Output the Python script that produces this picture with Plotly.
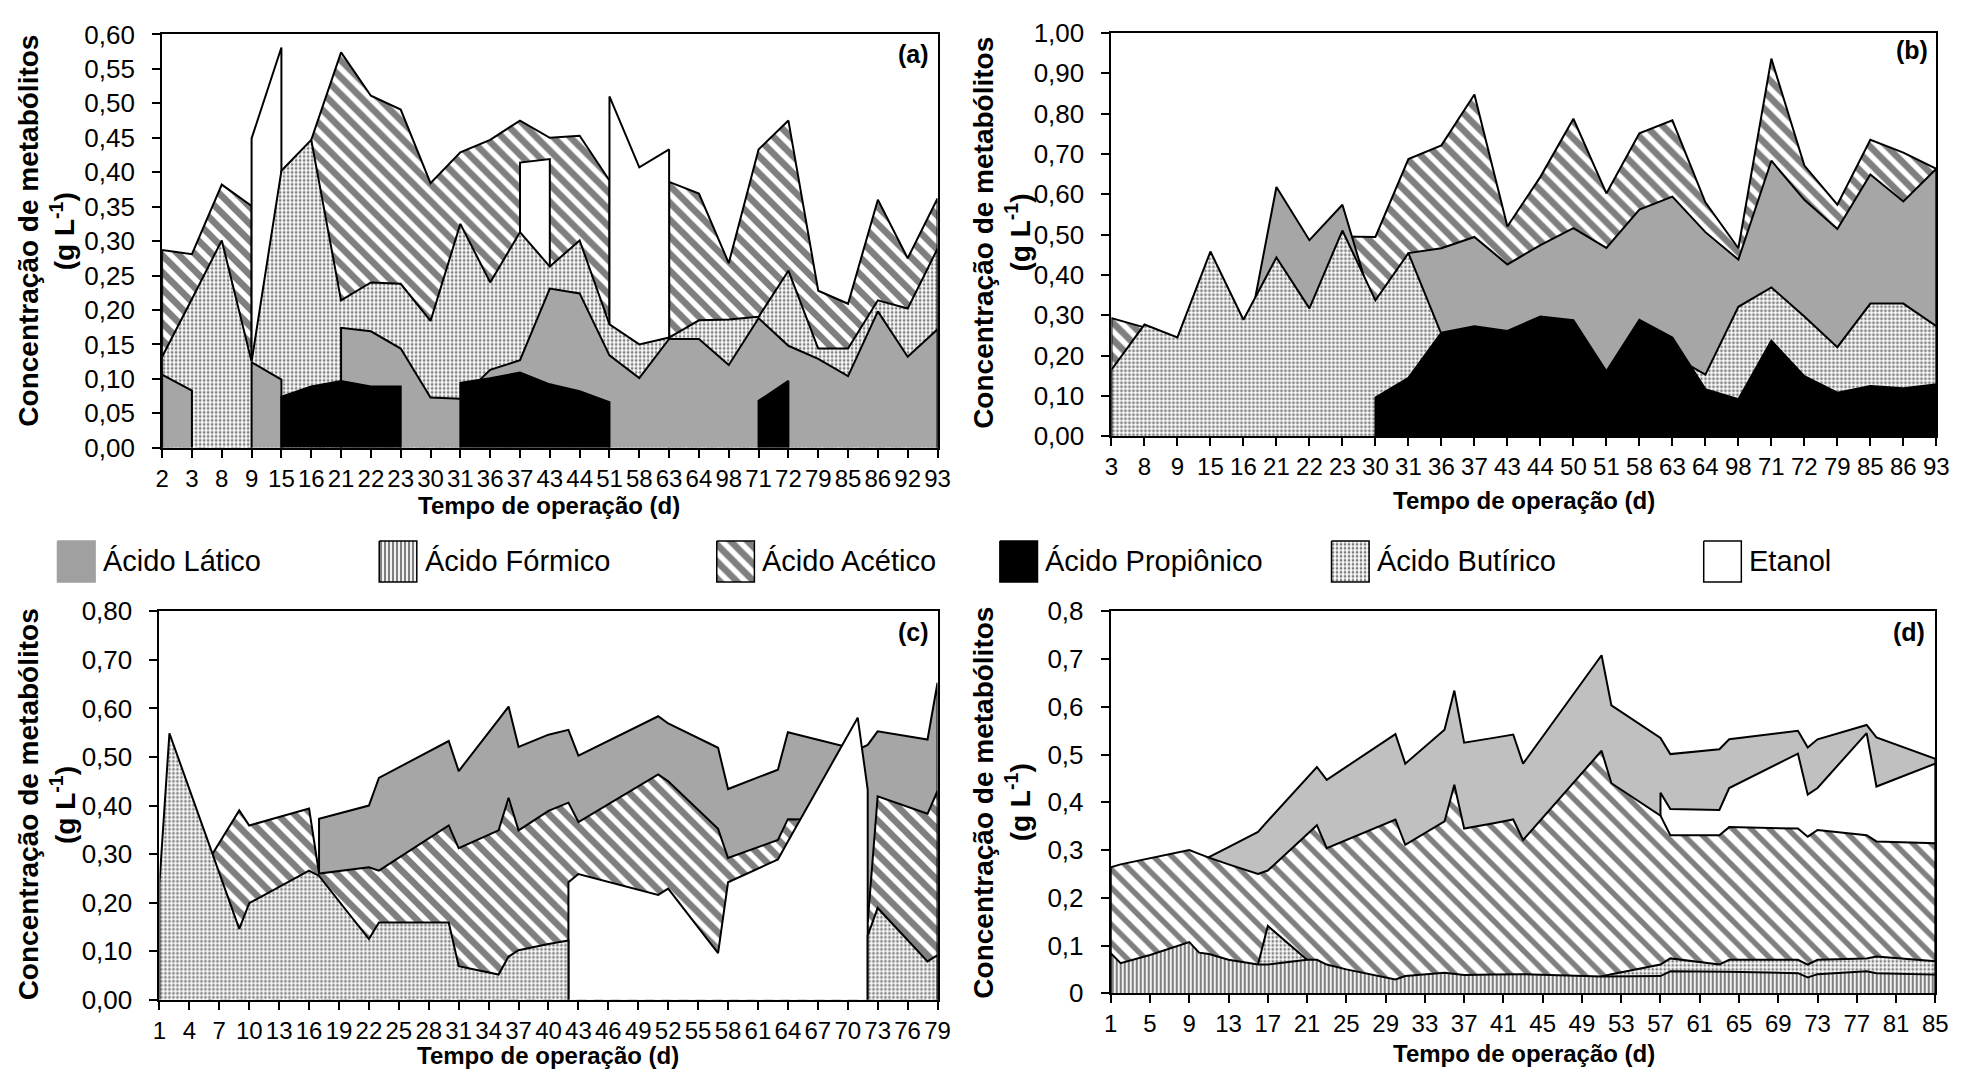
import plotly.graph_objects as go

W, H = 1983, 1087
FONT = "Liberation Sans"

# ---------------- (a) ----------------
a_dias = ["2", "3", "8", "9", "15", "16", "21", "22", "23", "30", "31", "36", "37", "43",
          "44", "51", "58", "63", "64", "98", "71", "72", "79", "85", "86", "92", "93"]
a_acetico = [0.287, 0.281, 0.382, 0.351, None, 0.447, 0.574, 0.511, 0.491, 0.384, 0.429, 0.447, 0.475, 0.450,
             0.453, 0.388, None, 0.386, 0.369, 0.268, 0.433, 0.475, 0.228, 0.209, 0.360, 0.275, 0.362]
a_etanol = [None, None, None, 0.449, 0.581, None, None, None, None, None, None, None, 0.414, 0.419,
            None, 0.510, 0.407, 0.433, None, None, None, None, None, None, None, None, None]
a_butirico = [0.132, 0.216, 0.301, 0.125, 0.402, 0.447, 0.214, 0.240, 0.238, 0.184, 0.325, 0.240, 0.313, 0.263,
              0.301, 0.179, 0.150, 0.160, 0.185, 0.186, 0.190, 0.257, 0.144, 0.144, 0.214, 0.202, 0.289]
a_latico = [0.106, 0.083, None, 0.124, 0.099, None, 0.174, 0.169, 0.144, 0.073, 0.071, 0.113, 0.127, 0.231,
            0.224, 0.134, 0.101, 0.158, 0.158, 0.120, 0.188, 0.148, 0.129, 0.104, 0.198, 0.132, 0.172]
a_propionico = [None, None, None, None, 0.074, 0.089, 0.097, 0.089, 0.089, None, 0.094, 0.101, 0.109, 0.092,
                0.082, 0.066, None, None, None, None, 0.068, 0.097, None, None, None, None, None]

# ---------------- (b) ----------------
b_dias = ["3", "8", "9", "15", "16", "21", "22", "23", "30", "31", "36", "37", "43", "44",
          "50", "51", "58", "63", "64", "98", "71", "72", "79", "85", "86", "93"]
b_acetico = [0.293, 0.270, None, None, None, None, None, 0.495, 0.494, 0.687, 0.721, 0.847, 0.520, 0.643,
             0.787, 0.602, 0.751, 0.783, 0.580, 0.466, 0.936, 0.671, 0.574, 0.735, 0.703, 0.663]
b_latico = [None, None, None, None, 0.190, 0.618, 0.486, 0.574, 0.300, 0.454, 0.466, 0.494, 0.426, 0.474,
            0.516, 0.467, 0.562, 0.594, 0.506, 0.438, 0.683, 0.586, 0.514, 0.649, 0.582, 0.663]
b_butirico = [0.165, 0.277, 0.245, 0.458, 0.289, 0.443, 0.317, 0.510, 0.337, 0.454, 0.253, None, None, None,
              None, None, None, 0.200, 0.153, 0.321, 0.369, 0.297, 0.221, 0.329, 0.329, 0.273]
b_propionico = [None, None, None, None, None, None, None, None, 0.096, 0.145, 0.257, 0.273, 0.261, 0.297,
                0.288, 0.161, 0.289, 0.245, 0.117, 0.092, 0.237, 0.149, 0.108, 0.125, 0.119, 0.129]

# ---------------- (c) ----------------
c_dias = [1, 2, 6, 9, 10, 16, 17, 22, 23, 30, 31, 35, 36, 37, 40, 42, 43, 51, 52, 57, 58, 63, 64, 71,
          72, 73, 78, 79]
c_latico = [None, None, None, None, None, None, 0.373, 0.400, 0.457, 0.533, 0.471, 0.577, 0.604, 0.521,
            0.546, 0.556, 0.503, 0.584, 0.569, 0.519, 0.434, 0.474, 0.551, 0.515, 0.525, 0.553, 0.536, 0.653]
c_acetico = [None, None, 0.290, 0.390, 0.359, 0.394, 0.260, 0.273, 0.266, 0.359, 0.312, 0.349, 0.416, 0.349,
             0.389, 0.406, 0.366, 0.464, 0.450, 0.352, 0.292, 0.329, 0.372, 0.370, 0.160, 0.419, 0.383, 0.430]
c_etanol = [None, None, None, None, None, None, None, None, None, None, None, None, None, None,
            None, 0.242, 0.259, 0.216, 0.229, 0.096, 0.242, 0.289, 0.326, 0.581, 0.433, None, None, None]
c_butirico = [0.240, 0.549, 0.318, 0.146, 0.199, 0.266, 0.255, 0.125, 0.159, 0.159, 0.069, 0.052, 0.089, 0.102,
              0.115, 0.122, None, None, None, None, None, None, None, None, 0.132, 0.189, 0.079, 0.092]

# ---------------- (d) ----------------
d_dias = [1, 2, 5, 9, 10, 11, 13, 16, 17, 21, 22, 23, 25, 30, 31, 35, 36, 37, 40, 42, 43, 51, 52, 57,
          58, 63, 64, 71, 72, 73, 78, 79, 85]
d_latico = [None, None, None, None, None, 0.285, 0.306, 0.338, 0.361, 0.451, 0.474, 0.447, 0.474, 0.543,
            0.481, 0.552, 0.634, 0.525, 0.535, 0.542, 0.481, 0.708, 0.603, 0.535, 0.501, 0.511, 0.532,
            0.550, 0.515, 0.532, 0.562, 0.536, 0.491]
d_etanol = [None, None, None, None, None, None, None, None, None, None, None, None, None, None,
            None, None, None, None, None, None, None, None, None, 0.420, 0.386, 0.384, 0.430,
            0.502, 0.416, 0.430, 0.545, 0.433, 0.481]
d_acetico = [0.264, 0.270, 0.283, 0.300, 0.292, 0.284, 0.270, 0.250, 0.257, 0.333, 0.352, 0.304, 0.321, 0.364,
             0.311, 0.360, 0.437, 0.345, 0.356, 0.364, 0.321, 0.508, 0.440, 0.372, 0.331, 0.331, 0.348,
             0.345, 0.328, 0.342, 0.331, 0.318, 0.314]
d_butirico = [None, None, None, None, None, None, None, 0.060, 0.141, 0.070, None, None, None, None,
              None, None, None, None, None, None, None, 0.035, 0.040, 0.060, 0.073, 0.060, 0.070,
              0.070, 0.060, 0.070, 0.073, 0.077, 0.067]
d_formico = [0.084, 0.063, 0.080, 0.107, 0.085, 0.082, 0.070, 0.060, 0.060, 0.070, 0.070, 0.060, 0.050, 0.029,
             0.036, 0.043, 0.040, 0.038, 0.039, 0.040, 0.040, 0.035, 0.035, 0.036, 0.046, 0.046, 0.045,
             0.042, 0.033, 0.040, 0.046, 0.042, 0.039]

legend_nomes = ["Ácido Lático", "Ácido Fórmico", "Ácido Acético", "Ácido Propiônico", "Ácido Butírico", "Etanol"]
legend_chaves = ["latico", "formico", "acetico", "propionico", "butirico", "etanol"]


def estilo(chave, cinza="#a6a6a6", hatch=12, hatch_sol=0.55):
    if chave == "latico":
        return dict(fillcolor=cinza)
    if chave == "propionico":
        return dict(fillcolor="black")
    if chave == "etanol":
        return dict(fillcolor="white")
    if chave == "acetico":
        return dict(fillcolor="white",
                    fillpattern=dict(shape="\\", fgcolor="black", bgcolor="white", size=hatch, solidity=hatch_sol))
    if chave == "butirico":
        return dict(fillcolor="white",
                    fillpattern=dict(shape=".", fgcolor="black", bgcolor="white", size=4, solidity=0.4))
    if chave == "formico":
        return dict(fillcolor="white",
                    fillpattern=dict(shape="|", fgcolor="black", bgcolor="white", size=4, solidity=0.55))


def trechos(xs, ys):
    """Split a series into contiguous runs of measured values."""
    run = []
    for x, y in zip(xs, ys):
        if y is None:
            if run:
                yield run
            run = []
        else:
            run.append((x, y))
    if run:
        yield run


fig = go.Figure()


def area(xs, ys, chave, n, **kw):
    st = estilo(chave, **kw)
    for run in trechos(xs, ys):
        px = [run[0][0]] + [p[0] for p in run] + [run[-1][0]]
        py = [0] + [p[1] for p in run] + [0]
        fig.add_trace(go.Scatter(
            x=px, y=py, mode="lines", fill="toself",
            line=dict(color="black", width=2), hoverinfo="skip", showlegend=False,
            xaxis="x" if n == 1 else f"x{n}", yaxis="y" if n == 1 else f"y{n}", **st))


# drawing order: back to front
ia = list(range(len(a_dias)))
for ys, k in [(a_acetico, "acetico"), (a_etanol, "etanol"), (a_butirico, "butirico"),
              (a_latico, "latico"), (a_propionico, "propionico")]:
    area(ia, ys, k, 1)

ib = list(range(len(b_dias)))
for ys, k in [(b_acetico, "acetico"), (b_latico, "latico"), (b_butirico, "butirico"),
              (b_propionico, "propionico")]:
    area(ib, ys, k, 2)

for ys, k in [(c_latico, "latico"), (c_acetico, "acetico"), (c_etanol, "etanol"), (c_butirico, "butirico")]:
    area(c_dias, ys, k, 3)

for ys, k in [(d_latico, "latico"), (d_etanol, "etanol"), (d_acetico, "acetico"),
              (d_butirico, "butirico"), (d_formico, "formico")]:
    area(d_dias, ys, k, 4, cinza="#c0c0c0", hatch=13, hatch_sol=0.42)

# legend swatches on a pixel-scaled overlay axis
leg_x = [51, 376, 717, 1003, 1338, 1714]
leg_w, leg_y0, leg_y1 = 38, 541, 583
for x0, k in zip(leg_x, legend_chaves):
    st = estilo(k, cinza="#a0a0a0")
    fig.add_trace(go.Scatter(
        x=[x0, x0 + leg_w, x0 + leg_w, x0, x0], y=[leg_y0, leg_y0, leg_y1, leg_y1, leg_y0],
        mode="lines", fill="toself", line=dict(color="black" if k != "latico" else "#a0a0a0", width=1.5),
        hoverinfo="skip", showlegend=False, xaxis="x5", yaxis="y5", **st))


def dom_x(p0, p1):
    return [p0 / W, p1 / W]


def dom_y(top, bottom):
    return [1 - bottom / H, 1 - top / H]


axis_common = dict(showline=True, linecolor="black", linewidth=2, mirror=True, ticks="outside",
                   ticklen=8, tickwidth=2, tickcolor="black", showgrid=False, zeroline=False,
                   fixedrange=True)
xaxis_common = dict(axis_common, tickangle=0, tickfont=dict(family=FONT, size=24, color="black"))
yaxis_common = dict(axis_common, ticklabelstandoff=12, tickfont=dict(family=FONT, size=26, color="black"))


def yfmt(v, dec):
    if dec == 1 and v == 0:
        return "0"
    return f"{v:.{dec}f}".replace(".", ",")


a_yt = [i * 0.05 for i in range(13)]
b_yt = [i * 0.1 for i in range(11)]
c_yt = [i * 0.1 for i in range(9)]
d_yt = [i * 0.1 for i in range(9)]
c_xt = list(range(1, 80, 3))
d_xt = list(range(1, 86, 4))

fig.update_layout(
    width=W, height=H, margin=dict(l=0, r=0, t=0, b=0),
    paper_bgcolor="white", plot_bgcolor="white",
    font=dict(family=FONT, color="black"),
    xaxis=dict(domain=dom_x(156.7, 940), range=[0, 26], tickvals=ia, ticktext=a_dias, anchor="y", **xaxis_common),
    yaxis=dict(domain=dom_y(20, 445), range=[0, 0.6], tickvals=a_yt, ticktext=[yfmt(v, 2) for v in a_yt],
               anchor="x", **yaxis_common),
    xaxis2=dict(domain=dom_x(1115.7, 1949), range=[0, 25], tickvals=ib, ticktext=b_dias, anchor="y2",
                **xaxis_common),
    yaxis2=dict(domain=dom_y(18.3, 433.3), range=[0, 1], tickvals=b_yt, ticktext=[yfmt(v, 2) for v in b_yt],
                anchor="x2", **yaxis_common),
    xaxis3=dict(domain=dom_x(154, 940), range=[1, 79], tickvals=c_xt, ticktext=[str(v) for v in c_xt],
                anchor="y3", **xaxis_common),
    yaxis3=dict(domain=dom_y(613.3, 1012.7), range=[0, 0.8], tickvals=c_yt, ticktext=[yfmt(v, 2) for v in c_yt],
                anchor="x3", **yaxis_common),
    xaxis4=dict(domain=dom_x(1115, 1948), range=[1, 85], tickvals=d_xt, ticktext=[str(v) for v in d_xt],
                anchor="y4", **xaxis_common),
    yaxis4=dict(domain=dom_y(613.3, 1006), range=[0, 0.8], tickvals=d_yt, ticktext=[yfmt(v, 1) for v in d_yt],
                anchor="x4", **yaxis_common),
    xaxis5=dict(domain=[0, 1], range=[0, W], visible=False, fixedrange=True, anchor="y5"),
    yaxis5=dict(domain=dom_y(530, 595), range=[595, 530], visible=False, fixedrange=True, anchor="x5"),
)

ann = []


def texto(px, py, t, size=26, bold=False, angle=0, xanchor="center"):
    ann.append(dict(x=px / W, y=1 - py / H, xref="paper", yref="paper", text=f"<b>{t}</b>" if bold else t,
                    showarrow=False, textangle=angle, xanchor=xanchor, yanchor="middle",
                    font=dict(family=FONT, size=size, color="black")))


# axis titles
for cx, cy in [(22, 222), (987, 224), (22, 812), (987, 810)]:
    texto(cx, cy, "Concentração de metabólitos", size=28, bold=True, angle=-90)
    texto(cx + 34, cy, "(g L<sup>-1</sup>)", size=28, bold=True, angle=-90)
for cx, cy in [(548, 504), (1532, 499), (547, 1070), (1532, 1068)]:
    texto(cx, cy, "Tempo de operação (d)", size=24, bold=True)

# panel tags
for px, py, t in [(933, 40, "(a)"), (1943, 36, "(b)"), (933, 634, "(c)"), (1940, 634, "(d)")]:
    texto(px, py, t, size=25, bold=True, xanchor="right")

# legend labels
for x0, nome in zip(leg_x, legend_nomes):
    texto(x0 + leg_w + 6, 562, nome, size=29, xanchor="left")

fig.update_layout(annotations=ann, separators=",.")
fig.write_html("out.html", post_script="document.body.style.margin='0';")
